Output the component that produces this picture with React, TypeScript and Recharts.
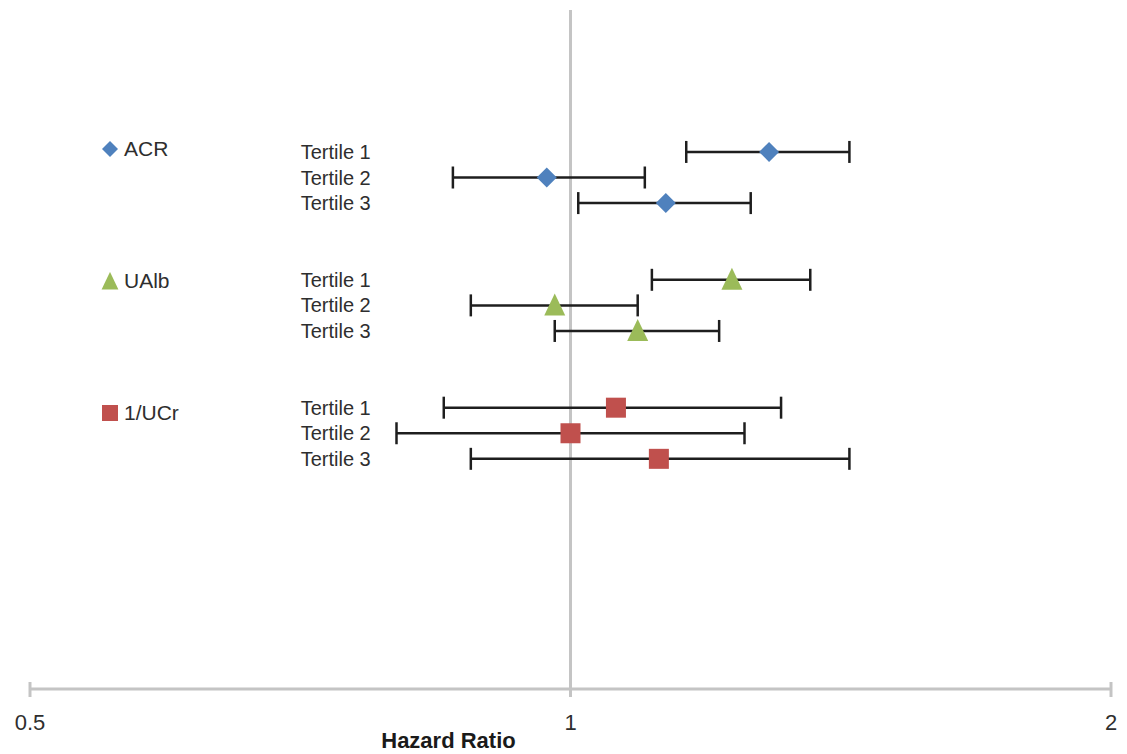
import React from 'react';
import { ScatterChart, Scatter, XAxis, YAxis, ErrorBar, ReferenceLine, Legend } from 'recharts';

// ---- data ----
const tertiles = ['Tertile 1', 'Tertile 2', 'Tertile 3'];
const xTicks = [0.5, 1, 2];

const acrRows = [1, 2, 3];
const acrHR = [1.29, 0.97, 1.13];
const acrLow = [1.16, 0.86, 1.01];
const acrHigh = [1.43, 1.1, 1.26];

const ualbRows = [6, 7, 8];
const ualbHR = [1.23, 0.98, 1.09];
const ualbLow = [1.11, 0.88, 0.98];
const ualbHigh = [1.36, 1.09, 1.21];

const ucrRows = [11, 12, 13];
const ucrHR = [1.06, 1.0, 1.12];
const ucrLow = [0.85, 0.8, 0.88];
const ucrHigh = [1.31, 1.25, 1.43];

const LABEL_HR = 0.774; // x position (in hazard ratio units) of the right edge of the tertile labels

const FONT = '"Liberation Sans", Arial, sans-serif';
const TEXT_COLOR = '#2e2e2e';
const AXIS_COLOR = '#c4c4c4';

const build = (rows: number[], hr: number[], lo: number[], hi: number[]) =>
  rows.map((r, i) => ({ y: r, x: hr[i], err: [hr[i] - lo[i], hi[i] - hr[i]], label: tertiles[i] }));

const acrData = build(acrRows, acrHR, acrLow, acrHigh);
const ualbData = build(ualbRows, ualbHR, ualbLow, ualbHigh);
const ucrData = build(ucrRows, ucrHR, ucrLow, ucrHigh);
const labelData = [...acrData, ...ualbData, ...ucrData].map((d) => ({ x: LABEL_HR, y: d.y, label: d.label }));

const Diamond = (props: any) => {
  const { cx, cy } = props;
  const h = props.half ?? 10;
  return <polygon points={`${cx},${cy - h} ${cx + h},${cy} ${cx},${cy + h} ${cx - h},${cy}`} fill="#4F81BD" />;
};
const Triangle = (props: any) => {
  const { cx, cy } = props;
  const s = props.scale ?? 1;
  return (
    <polygon
      points={`${cx},${cy - 12 * s} ${cx + 10.5 * s},${cy + 10 * s} ${cx - 10.5 * s},${cy + 10 * s}`}
      fill="#9BBB59"
    />
  );
};
const Square = (props: any) => {
  const { cx, cy } = props;
  const h = props.half ?? 10;
  return <rect x={cx - h} y={cy - h} width={2 * h} height={2 * h} fill="#C0504D" />;
};

const LabelShape = (props: any) => {
  const { cx, cy, payload } = props;
  return (
    <text x={cx} y={cy} dy="0.35em" textAnchor="end" fontFamily={FONT} fontSize={20} fill={TEXT_COLOR}>
      {payload.label}
    </text>
  );
};

const AxisTick = (props: any) => {
  const { x, y, payload } = props;
  return (
    <g>
      <line x1={x} x2={x} y1={y - 7} y2={y + 8} stroke={AXIS_COLOR} strokeWidth={3} />
      <text x={x} y={y + 41} textAnchor="middle" fontFamily={FONT} fontSize={22} fill={TEXT_COLOR}>
        {payload.value}
      </text>
    </g>
  );
};

const legendItems = [
  { name: 'ACR', marker: <Diamond cx={9} cy={9} half={8} /> },
  { name: 'UAlb', marker: <Triangle cx={9} cy={9.5} scale={0.8} /> },
  { name: '1/UCr', marker: <Square cx={9} cy={9} half={8} /> },
];

const LegendContent = () => (
  <div style={{ whiteSpace: 'nowrap' }}>
    {legendItems.map((it) => (
      <div
        key={it.name}
        style={{ height: 26, marginBottom: 106, display: 'flex', alignItems: 'center' }}
      >
        <svg width={18} height={18} style={{ marginRight: 5, flexShrink: 0, display: 'block' }}>
          {it.marker}
        </svg>
        <span style={{ fontFamily: FONT, fontSize: 21, color: TEXT_COLOR, flexShrink: 0 }}>{it.name}</span>
      </div>
    ))}
  </div>
);

const errProps = { dataKey: 'err', direction: 'x' as const, width: 11, strokeWidth: 2.5, stroke: '#1e1e1e' };

export default function App() {
  return (
    <ScatterChart width={1119} height={746} margin={{ top: 2, right: 16, bottom: 5, left: 22 }}>
      <XAxis
        dataKey="x"
        type="number"
        scale="log"
        domain={[0.5, 2]}
        ticks={xTicks}
        allowDataOverflow
        height={60}
        axisLine={{ stroke: AXIS_COLOR, strokeWidth: 3 }}
        tickLine={false}
        tickSize={0}
        tickMargin={0}
        tick={<AxisTick />}
        label={{
          value: 'Hazard Ratio',
          position: 'insideBottom',
          offset: 1,
          dx: -122,
          style: { fontFamily: FONT, fontSize: 22, fontWeight: 'bold', fill: '#1a1a1a' },
        }}
      />
      <YAxis dataKey="y" type="number" domain={[-4.55, 22]} reversed hide allowDataOverflow />
      <ReferenceLine x={1} stroke={AXIS_COLOR} strokeWidth={3} />
      <Legend
        layout="vertical"
        align="left"
        verticalAlign="top"
        wrapperStyle={{ left: 93, top: 128, width: 0 }}
        content={<LegendContent />}
      />
      <Scatter name="labels" data={labelData} shape={<LabelShape />} legendType="none" isAnimationActive={false} />
      <Scatter name="ACR" data={acrData} shape={<Diamond />} isAnimationActive={false}>
        <ErrorBar {...errProps} />
      </Scatter>
      <Scatter name="UAlb" data={ualbData} shape={<Triangle />} isAnimationActive={false}>
        <ErrorBar {...errProps} />
      </Scatter>
      <Scatter name="1/UCr" data={ucrData} shape={<Square />} isAnimationActive={false}>
        <ErrorBar {...errProps} />
      </Scatter>
    </ScatterChart>
  );
}
